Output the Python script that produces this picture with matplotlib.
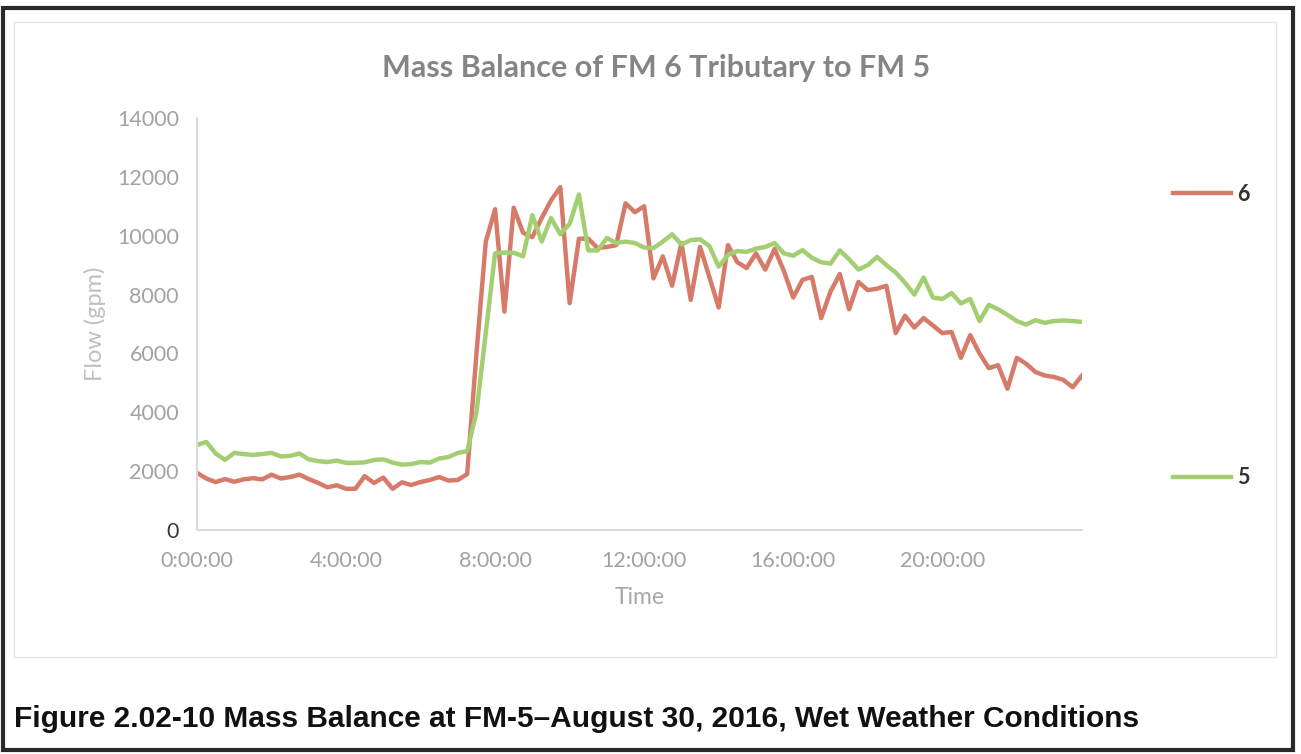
import matplotlib
matplotlib.use("Agg")
import matplotlib.pyplot as plt
from matplotlib.patches import Rectangle

# 15-minute readings, 0:00 to 23:45
fm6 = [1940, 1750, 1630, 1730, 1640, 1720, 1760, 1720, 1880, 1750,
       1800, 1880, 1730, 1600, 1450, 1520, 1400, 1400, 1830, 1600,
       1780, 1400, 1620, 1530, 1630, 1700, 1800, 1680, 1700, 1900,
       6000, 9800, 10900, 7420, 10950, 10100, 9950, 10600, 11200, 11650,
       7710, 9900, 9900, 9580, 9620, 9680, 11100, 10800, 11000, 8550,
       9300, 8300, 9750, 7820, 9620, 8600, 7560, 9680, 9100, 8900,
       9400, 8850, 9550, 8800, 7900, 8500, 8600, 7200, 8100, 8700,
       7500, 8430, 8150, 8200, 8300, 6690, 7280, 6880, 7200, 6950,
       6690, 6730, 5850, 6620, 6000, 5500, 5600, 4800, 5850, 5650,
       5370, 5250, 5200, 5100, 4850, 5250]

fm5 = [2890, 2990, 2600, 2380, 2620, 2580, 2550, 2580, 2620, 2500,
       2520, 2600, 2400, 2340, 2310, 2360, 2280, 2280, 2300, 2380,
       2400, 2290, 2220, 2240, 2310, 2290, 2430, 2480, 2620, 2680,
       4000, 6700, 9400, 9430, 9420, 9300, 10700, 9800, 10600, 10050,
       10400, 11400, 9500, 9500, 9920, 9750, 9800, 9750, 9600, 9580,
       9800, 10050, 9700, 9850, 9880, 9650, 8950, 9350, 9480, 9450,
       9560, 9620, 9750, 9400, 9320, 9510, 9250, 9100, 9050, 9500,
       9200, 8850, 9000, 9280, 9000, 8750, 8400, 8000, 8580, 7900,
       7850, 8050, 7700, 7850, 7100, 7650, 7500, 7310, 7100, 6980,
       7130, 7040, 7100, 7120, 7100, 7070]

times = ["%d:%02d:00" % (i // 4, (i % 4) * 15) for i in range(len(fm6))]
tick_idx = [0, 16, 32, 48, 64, 80]
yticks = [0, 2000, 4000, 6000, 8000, 10000, 12000, 14000]

W, H = 1301, 754
fig = plt.figure(figsize=(W / 100, H / 100), dpi=100)
fig.patch.set_facecolor("white")

ax = fig.add_axes([197 / W, 1 - 530 / H, (1082 - 197) / W, (530 - 118) / H])
x = list(range(len(fm6)))
ax.plot(x, fm6, color="#d67b69", lw=3.2, label="6", solid_joinstyle="round")
ax.plot(x, fm5, color="#a3cf72", lw=3.2, label="5", solid_joinstyle="round")

ax.set_xlim(0, len(fm6) - 1)
ax.set_ylim(0, 14000)
ax.set_yticks(yticks)
ax.set_yticklabels([str(v) for v in yticks])
ax.set_xticks(tick_idx)
ax.set_xticklabels([times[i] for i in tick_idx])

font = "Lato"
for lab in ax.get_xticklabels() + ax.get_yticklabels():
    lab.set_fontfamily(font)
    lab.set_fontsize(15.5)
    lab.set_color("#a2a2a2")
ax.get_yticklabels()[0].set_color("#3a3a3a")
ax.tick_params(axis="both", length=0)
ax.tick_params(axis="y", pad=13)
ax.tick_params(axis="x", pad=15)

for s in ["top", "right"]:
    ax.spines[s].set_visible(False)
for s in ["left", "bottom"]:
    ax.spines[s].set_color("#dcdcdc")
    ax.spines[s].set_linewidth(1.5)

ax.set_xlabel("Time", fontfamily=font, fontsize=16.5, color="#a8a8a8", labelpad=12)
ax.set_ylabel("Flow (gpm)", fontfamily=font, fontsize=17, color="#c0c0c0", labelpad=8)

fig.text(656 / W, 1 - 68 / H, "Mass Balance of FM 6 Tributary to FM 5",
         ha="center", va="center", fontfamily=font, fontweight="bold",
         fontsize=22, color="#858585")

fig.legend(loc="upper left", bbox_to_anchor=(1162 / W, 1 - 173 / H),
           bbox_transform=fig.transFigure, frameon=False, borderpad=0,
           handlelength=2.7, handletextpad=0.3, labelspacing=12.2,
           prop={"family": font, "size": 15.5, "weight": "bold"}, labelcolor="#333333")

fig.text(14 / W, 1 - 719 / H,
         "Figure 2.02-10 Mass Balance at FM-5\u2013August 30, 2016, Wet Weather Conditions",
         ha="left", va="center", fontfamily="Liberation Sans", fontweight="bold",
         fontsize=21.5, color="#111111")

# chart area frame and outer page frame
fig.add_artist(Rectangle((14 / W, 1 - 657 / H), (1276 - 14) / W, (657 - 22) / H,
                         transform=fig.transFigure, fill=False, ec="#e4e4e4", lw=1))
fig.add_artist(Rectangle((3 / W, 4 / H), (1293 - 3) / W, (748 - 6) / H,
                         transform=fig.transFigure, fill=False, ec="#2a2a2a", lw=3))

fig.savefig("out.png", dpi=100, facecolor="white")
